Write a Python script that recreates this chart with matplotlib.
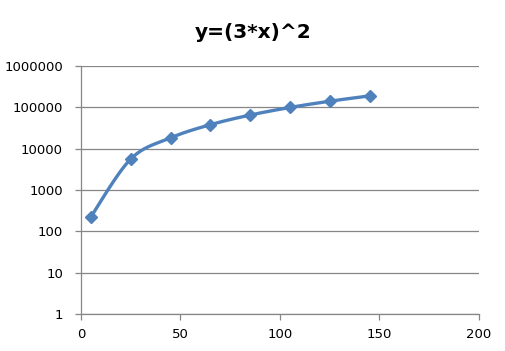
import numpy as np
import matplotlib
matplotlib.use("Agg")
import matplotlib.pyplot as plt

x_vals = [5, 25, 45, 65, 85, 105, 125, 145]
y_vals = [225, 5625, 18225, 38025, 65025, 99225, 140625, 189225]
x_ticks = [0, 50, 100, 150, 200]
y_ticks = [1, 10, 100, 1000, 10000, 100000, 1000000]
title = "y=(3*x)^2"

color = "#4F81BD"
grid_c = "#868686"

fig = plt.figure(figsize=(5.06, 3.51), dpi=100)
ax = fig.add_axes([81/506, 1-314/351, (479-81)/506, (314-66)/351])
ax.set_yscale("log")
ax.set_xlim(0, 200)
ax.set_ylim(1, 1000000)

# smooth curve: Catmull-Rom in scaled (x, log y) space
px = np.array(x_vals, float) / 200.0 * 398
py = np.log10(np.array(y_vals, float)) / 6.0 * 248
P = np.column_stack([px, py])
Pext = np.vstack([P[0], P, P[-1]])
cx, cy = [], []
for i in range(1, len(Pext) - 2):
    p0, p1, p2, p3 = Pext[i-1], Pext[i], Pext[i+1], Pext[i+2]
    c1 = p1 + (p2 - p0) / 6.0
    c2 = p2 - (p3 - p1) / 6.0
    t = np.linspace(0, 1, 30)[:, None]
    b = (1-t)**3*p1 + 3*(1-t)**2*t*c1 + 3*(1-t)*t**2*c2 + t**3*p2
    cx.extend(b[:, 0]); cy.extend(b[:, 1])
cx = np.array(cx) / 398 * 200
cy = 10 ** (np.array(cy) / 248 * 6)

ax.plot(cx, cy, color=color, lw=2.4, zorder=3, solid_capstyle="round")
ax.plot(x_vals, y_vals, linestyle="none", marker="D", markersize=6.5,
        color=color, zorder=4)

ax.set_xticks(x_ticks)
ax.set_yticks(y_ticks)
ax.set_yticklabels([str(v) for v in y_ticks])
ax.set_xticklabels([str(v) for v in x_ticks])
ax.yaxis.set_minor_locator(matplotlib.ticker.NullLocator())
ax.grid(axis="y", color=grid_c, lw=0.9)
ax.set_axisbelow(True)
for s in ["top", "right"]:
    ax.spines[s].set_visible(False)
for s in ["left", "bottom"]:
    ax.spines[s].set_color(grid_c)
    ax.spines[s].set_linewidth(0.9)
ax.tick_params(axis="both", colors=grid_c, length=4, width=0.9,
               labelcolor="black", labelsize=9.5)
ax.tick_params(axis="y", pad=9)
ax.tick_params(axis="x", pad=6)
fig.text(0.5, 1 - 32/351, title, fontsize=14.5, fontweight="bold",
         ha="center", va="center")

fig.savefig("out.png", dpi=100)
